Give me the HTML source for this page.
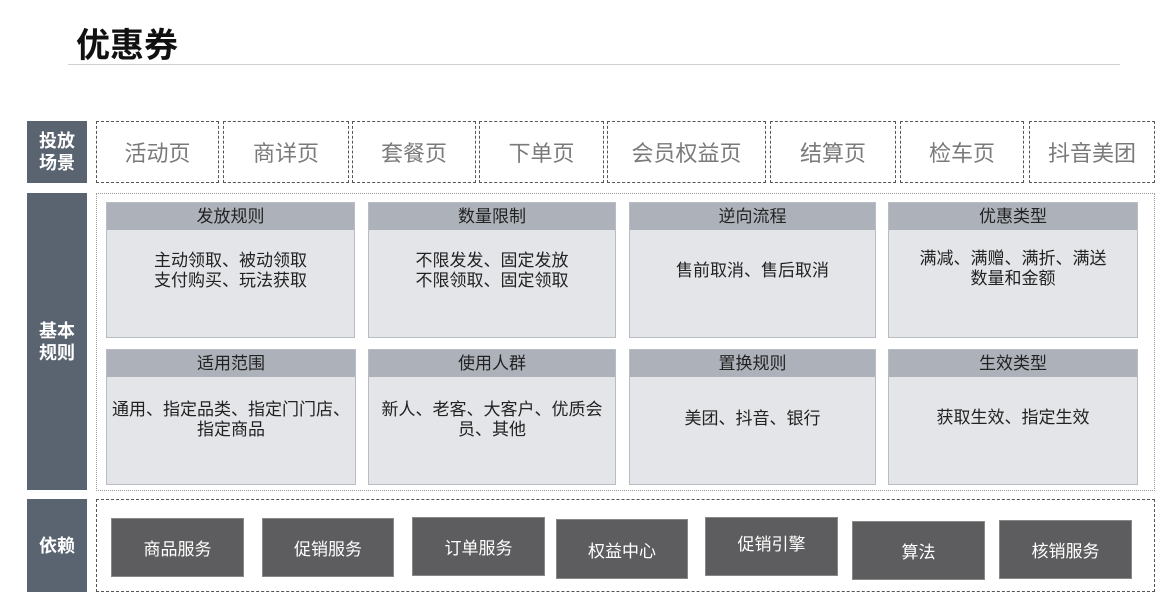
<!DOCTYPE html>
<html><head><meta charset="utf-8"><style>
body{margin:0;width:1172px;height:605px;background:#fff;position:relative;overflow:hidden;font-family:"Liberation Sans","Noto Sans CJK SC",sans-serif;}
.a{position:absolute;box-sizing:border-box;}
.title{left:76px;top:18px;font-size:34px;font-weight:bold;color:#111;}
.hr{left:68px;top:64px;width:1052px;height:1px;background:#d0d0d0;}
.lab{background:#5a6370;color:#fff;font-weight:bold;font-size:18px;line-height:22px;text-align:center;display:flex;align-items:center;justify-content:center;}
.sc{border:1px dashed #555;color:#7a7a7a;font-size:22px;display:flex;align-items:center;justify-content:center;top:121px;height:62px;}
.card{border:1px solid #b8bcc3;background:#e4e5e8;}
.card .h{height:27px;background:#adb2ba;font-size:17px;color:#222;text-align:center;line-height:27px;}
.card .b{font-size:17px;color:#222;text-align:center;line-height:20px;}
.btn{background:#5d5d5f;border:1px solid #888;color:#fff;font-size:17px;display:flex;align-items:center;justify-content:center;}
</style></head><body>
<div class="a title">优惠券</div>
<div class="a hr"></div>
<div class="a lab" style="left:27px;top:121px;width:60px;height:62px;">投放<br>场景</div>
<div class="a lab" style="left:27px;top:193px;width:60px;height:297px;">基本<br>规则</div>
<div class="a lab" style="left:27px;top:499px;width:60px;height:93px;">依赖</div>

<div class="a sc" style="left:96px;width:123px;">活动页</div>
<div class="a sc" style="left:223px;width:126px;">商详页</div>
<div class="a sc" style="left:352px;width:124px;">套餐页</div>
<div class="a sc" style="left:479px;width:125px;">下单页</div>
<div class="a sc" style="left:607px;width:159px;">会员权益页</div>
<div class="a sc" style="left:770px;width:126px;">结算页</div>
<div class="a sc" style="left:900px;width:124px;">检车页</div>
<div class="a sc" style="left:1029px;width:126px;">抖音美团</div>

<div class="a" style="left:96px;top:193px;width:1059px;height:298px;border:1px dotted #999;"></div>

<div class="a card" style="left:106px;top:202px;width:249px;height:136px;"><div class="h">发放规则</div><div class="b" style="padding-top:21px">主动领取、被动领取<br>支付购买、玩法获取</div></div>
<div class="a card" style="left:368px;top:202px;width:248px;height:136px;"><div class="h">数量限制</div><div class="b" style="padding-top:21px">不限发发、固定发放<br>不限领取、固定领取</div></div>
<div class="a card" style="left:629px;top:202px;width:247px;height:136px;"><div class="h">逆向流程</div><div class="b" style="padding-top:31px">售前取消、售后取消</div></div>
<div class="a card" style="left:888px;top:202px;width:250px;height:136px;"><div class="h">优惠类型</div><div class="b" style="padding-top:19px">满减、满赠、满折、满送<br>数量和金额</div></div>

<div class="a card" style="left:106px;top:349px;width:250px;height:136px;"><div class="h">适用范围</div><div class="b" style="padding-top:23px">通用、指定品类、指定门门店、<br>指定商品</div></div>
<div class="a card" style="left:368px;top:349px;width:248px;height:136px;"><div class="h">使用人群</div><div class="b" style="padding-top:23px">新人、老客、大客户、优质会<br>员、其他</div></div>
<div class="a card" style="left:629px;top:349px;width:247px;height:136px;"><div class="h">置换规则</div><div class="b" style="padding-top:32px">美团、抖音、银行</div></div>
<div class="a card" style="left:888px;top:349px;width:250px;height:136px;"><div class="h">生效类型</div><div class="b" style="padding-top:31px">获取生效、指定生效</div></div>

<div class="a" style="left:96px;top:499px;width:1059px;height:93px;border:1px dashed #555;"></div>
<div class="a btn" style="left:111px;top:518px;width:133px;height:59px;">商品服务</div>
<div class="a btn" style="left:262px;top:518px;width:132px;height:59px;">促销服务</div>
<div class="a btn" style="left:412px;top:517px;width:133px;height:59px;">订单服务</div>
<div class="a btn" style="left:556px;top:519px;width:132px;height:60px;">权益中心</div>
<div class="a btn" style="left:705px;top:517px;width:133px;height:59px;padding-bottom:8px;">促销引擎</div>
<div class="a btn" style="left:852px;top:521px;width:133px;height:59px;">算法</div>
<div class="a btn" style="left:999px;top:520px;width:133px;height:59px;">核销服务</div>
</body></html>
